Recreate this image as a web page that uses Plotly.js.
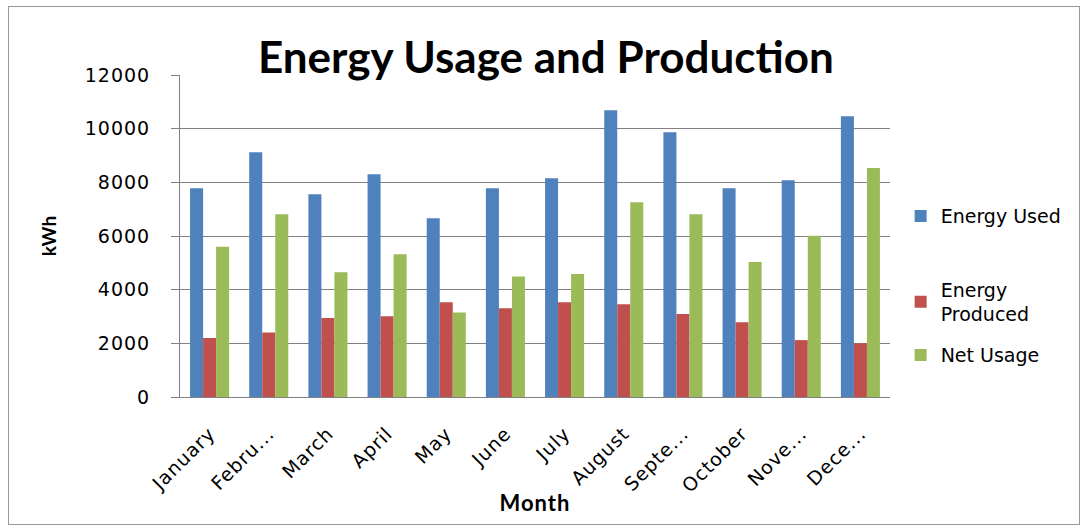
<!DOCTYPE html>
<html><head><meta charset="utf-8">
<script src="https://cdn.plot.ly/plotly-3.0.1.min.js"></script>
<style>
html,body{margin:0;padding:0;background:#fff;}
#frame{position:absolute;left:8px;top:6px;width:1072px;height:519px;border:1px solid #9a9a9a;box-sizing:border-box;}
#chart{position:absolute;left:0;top:0;width:1081px;height:526px;}
#chart .xtick text, #chart .ytick text {letter-spacing:1px;}
#chart .xtitle {letter-spacing:1px;}
</style></head>
<body>
<div id="frame"></div>
<div id="chart"></div>
<script>
const months = ["January","Febru...","March","April","May","June","July","August","Septe...","October","Nove...","Dece..."];
const energyUsed = [7780,9120,7560,8300,6660,7780,8150,10690,9870,7780,8080,10460];
const energyProduced = [2200,2400,2940,3010,3530,3310,3530,3460,3090,2790,2120,2000];
const netUsage = [5600,6810,4650,5320,3150,4490,4580,7260,6810,5030,6010,8530];
const yTicks = [0,2000,4000,6000,8000,10000,12000];
const yTickText = ["0","2000","4000","6000","8000","10000","12000"];

const titleFont = "Lato, 'Open Sans', sans-serif";
const textFont = "'DejaVu Sans', Verdana, sans-serif";
const traces = [
  {type:'bar', name:'Energy Used', x:months, y:energyUsed, marker:{color:'#4F81BD'}, legend:'legend'},
  {type:'bar', name:'Energy<br>Produced', x:months, y:energyProduced, marker:{color:'#C0504D'}, legend:'legend2'},
  {type:'bar', name:'Net Usage', x:months, y:netUsage, marker:{color:'#9BBB59'}, legend:'legend3'}
];
const leg = (y) => ({x:1.015, xanchor:'left', y:y, yanchor:'middle', font:{size:19, family:textFont}, itemwidth:30, bgcolor:'rgba(0,0,0,0)'});
const layout = {
  width:1081, height:526,
  paper_bgcolor:'rgba(0,0,0,0)', plot_bgcolor:'rgba(0,0,0,0)',
  margin:{l:180, r:191, t:75, b:129},
  barmode:'group', bargap:0.34, bargroupgap:0,
  font:{family:textFont, color:'#000', size:18},
  title:{text:'<b>Energy Usage and Production</b>', font:{size:44, family:titleFont}, x:0.505, xanchor:'center', y:0.89, yanchor:'middle'},
  xaxis:{
    title:{text:'<b>Month</b>', font:{size:22, family:titleFont}, standoff:4},
    tickangle:-45, tickfont:{size:19, family:textFont}, showline:true, linecolor:'#808080', linewidth:1,
    ticks:'', ticklabelstandoff:17, automargin:false
  },
  yaxis:{
    title:{text:'<b>kWh</b>', font:{size:19, family:titleFont}, standoff:28},
    range:[0,12000], tickvals:yTicks, ticktext:yTickText, tickfont:{size:19, family:textFont},
    showgrid:true, gridcolor:'#808080', gridwidth:1,
    showline:true, linecolor:'#808080', linewidth:1,
    zeroline:false, ticks:'outside', ticklen:8, tickcolor:'#808080', ticklabelstandoff:17, automargin:false
  },
  legend:leg(0.562),
  legend2:leg(0.295),
  legend3:leg(0.130),
  showlegend:true
};
Plotly.newPlot('chart', traces, layout, {displayModeBar:false, staticPlot:true});
</script>
</body></html>
